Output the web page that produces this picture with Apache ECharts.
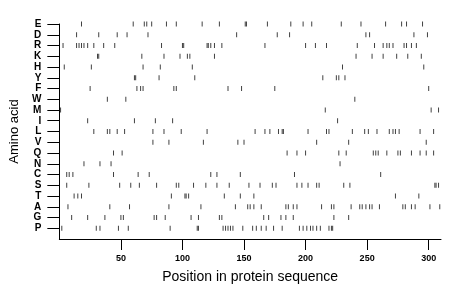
<!DOCTYPE html>
<html>
<head>
<meta charset="utf-8">
<script src="https://cdn.jsdelivr.net/npm/echarts@6/dist/echarts.min.js"></script>
<style>html,body{margin:0;padding:0;background:#fff}#c{width:460px;height:299px}</style>
</head>
<body>
<div id="c"></div>
<script>
// Rows bottom to top
const aminoAcids = ["P","G","A","T","S","C","N","Q","V","L","I","M","W","F","Y","H","K","R","D","E"];
const xTicks = [50, 100, 150, 200, 250, 300];

const posE = [18, 60, 69, 71, 75, 87, 95, 116, 130, 151, 152, 169, 188, 198, 205, 229, 245, 265, 278, 282, 295];
const posD = [14, 32, 47, 55, 72, 144, 177, 187, 249, 252, 288, 299];
const posR = [3, 14, 16, 18, 20, 23, 28, 36, 45, 83, 100, 101, 120, 121, 123, 126, 132, 167, 200, 208, 217, 242, 256, 263, 266, 268, 271, 280, 282, 286, 290];
const posK = [31, 32, 67, 85, 98, 104, 106, 126, 241, 254, 263, 274, 283, 294];
const posH = [4, 26, 68, 82, 108, 230, 296];
const posY = [61, 62, 81, 110, 214, 225, 227, 232];
const posF = [25, 63, 66, 68, 93, 95, 137, 148, 175, 300];
const posW = [39, 54, 240];
const posM = [1, 216, 302, 308];
const posI = [23, 61, 78, 92, 226];
const posL = [28, 39, 41, 47, 53, 76, 85, 99, 120, 159, 167, 171, 178, 181, 182, 202, 217, 219, 238, 248, 251, 258, 268, 271, 273, 276, 293, 304];
const posV = [76, 89, 117, 145, 150, 209, 235, 298];
const posQ = [44, 51, 185, 193, 200, 227, 233, 255, 257, 259, 266, 275, 277, 286, 293, 298, 304];
const posN = [20, 33, 42, 228];
const posC = [6, 8, 11, 44, 64, 73, 123, 128, 147, 191, 261];
const posS = [6, 24, 49, 58, 65, 79, 95, 97, 109, 119, 128, 138, 154, 163, 173, 176, 193, 197, 202, 209, 211, 231, 236, 305, 306, 308];
const posT = [12, 15, 18, 91, 102, 103, 105, 134, 147, 158, 273, 292];
const posA = [7, 41, 57, 89, 115, 143, 153, 155, 158, 164, 184, 186, 190, 193, 213, 221, 223, 237, 244, 246, 249, 252, 254, 260, 279, 281, 286, 289, 301, 309];
const posG = [10, 23, 37, 50, 52, 77, 79, 86, 107, 113, 130, 132, 166, 170, 180, 184, 190, 223, 235];
const posP = [2, 30, 33, 48, 56, 90, 112, 113, 133, 135, 137, 139, 141, 149, 157, 160, 164, 168, 174, 181, 195, 198, 201, 204, 206, 209, 212, 219, 221, 222];

const positions = {E: posE, D: posD, R: posR, K: posK, H: posH, Y: posY, F: posF, W: posW, M: posM, I: posI,
  L: posL, V: posV, Q: posQ, N: posN, C: posC, S: posS, T: posT, A: posA, G: posG, P: posP};

const points = [];
aminoAcids.forEach((aa, i) => {
  positions[aa].forEach(p => points.push([p, i + 1]));
});
const yVals = aminoAcids.map((_, i) => i + 1);

const FONT = '"Liberation Sans", Arial, Helvetica, sans-serif';
const chart = echarts.init(document.getElementById('c'), null, {renderer: 'canvas'});
chart.setOption({
  animation: false,
  backgroundColor: '#fff',
  grid: {left: 59, right: 19, top: 24, bottom: 60},
  xAxis: {
    type: 'value', min: 0, max: 310,
    name: 'Position in protein sequence', nameLocation: 'middle', nameGap: 31,
    nameTextStyle: {fontFamily: FONT, fontSize: 14, color: '#000'},
    axisLine: {show: true, lineStyle: {color: '#000', width: 1}},
    axisTick: {show: true, customValues: xTicks, length: 11, lineStyle: {color: '#000'}},
    axisLabel: {customValues: xTicks, margin: 15, fontFamily: FONT, fontSize: 9, fontWeight: 'bold', color: '#000'},
    splitLine: {show: false}
  },
  yAxis: {
    type: 'value', min: 0, max: 20,
    name: 'Amino acid', nameLocation: 'middle', nameGap: 38,
    nameTextStyle: {fontFamily: FONT, fontSize: 13, color: '#000'},
    axisLine: {show: true, lineStyle: {color: '#000', width: 1}},
    axisTick: {show: true, customValues: yVals, length: 12, lineStyle: {color: '#000'}},
    axisLabel: {customValues: yVals, margin: 18, fontFamily: FONT, fontSize: 10, fontWeight: 'bold', color: '#000',
      formatter: v => aminoAcids[Math.round(v) - 1] || ''},
    splitLine: {show: false}
  },
  series: [{
    type: 'scatter',
    data: points,
    symbol: 'rect',
    symbolSize: [1, 5],
    itemStyle: {color: '#111'}
  }]
});
</script>
</body>
</html>
